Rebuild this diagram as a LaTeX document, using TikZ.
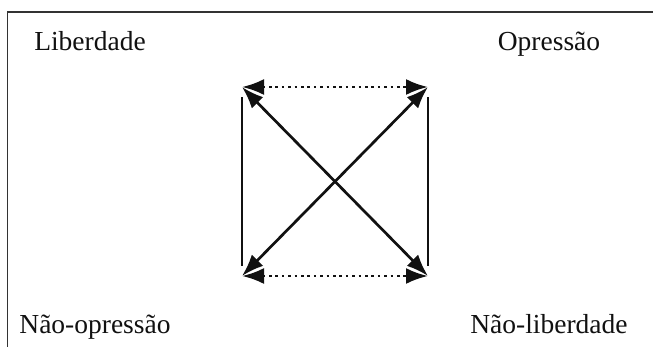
\documentclass[tikz,border=0pt]{standalone}
\usepackage{fontspec}
\setmainfont{Liberation Serif}
\usetikzlibrary{arrows.meta}
\definecolor{cInk}{HTML}{111111}
\definecolor{cFrame}{HTML}{333333}
\tikzset{
  lbl/.style={font=\fontsize{27.5}{32}\selectfont, inner sep=0pt, anchor=base, text=cInk},
  ar/.style={{Latex[length=22pt, width=16pt]}-{Latex[length=22pt, width=16pt]}, line width=2.7pt, draw=cInk},
  ard/.style={ar, dash pattern=on 2.6pt off 3.8pt},
  side/.style={line width=2.7pt, draw=cInk, shorten <=10pt, shorten >=10pt},
  frame/.style={line width=1.5pt, draw=cFrame},
}

\begin{document}
\begin{tikzpicture}[x=1pt, y=-1pt]
  \useasboundingbox (0,0) rectangle (653,346);
  \clip (0,0) rectangle (653,346);
  \draw[frame] (7.5,12) rectangle (700,400);

  % corners of the square
  \coordinate (tl) at (242,87);
  \coordinate (tr) at (428,87);
  \coordinate (bl) at (242,276);
  \coordinate (br) at (428,276);

  \node[lbl] (lib)  at (90,50)  {Liberdade};
  \node[lbl] (opr)  at (549,50) {Opressão};
  \node[lbl] (nopr) at (95,333) {Não-opressão};
  \node[lbl] (nlib) at (549,333) {Não-liberdade};

  \draw[ard] (tl) -- (tr);
  \draw[ard] (bl) -- (br);
  \draw[side] (tl) -- (bl);
  \draw[side] (tr) -- (br);
  \draw[ar] (tl) -- (br);
  \draw[ar] (tr) -- (bl);
\end{tikzpicture}
\end{document}
